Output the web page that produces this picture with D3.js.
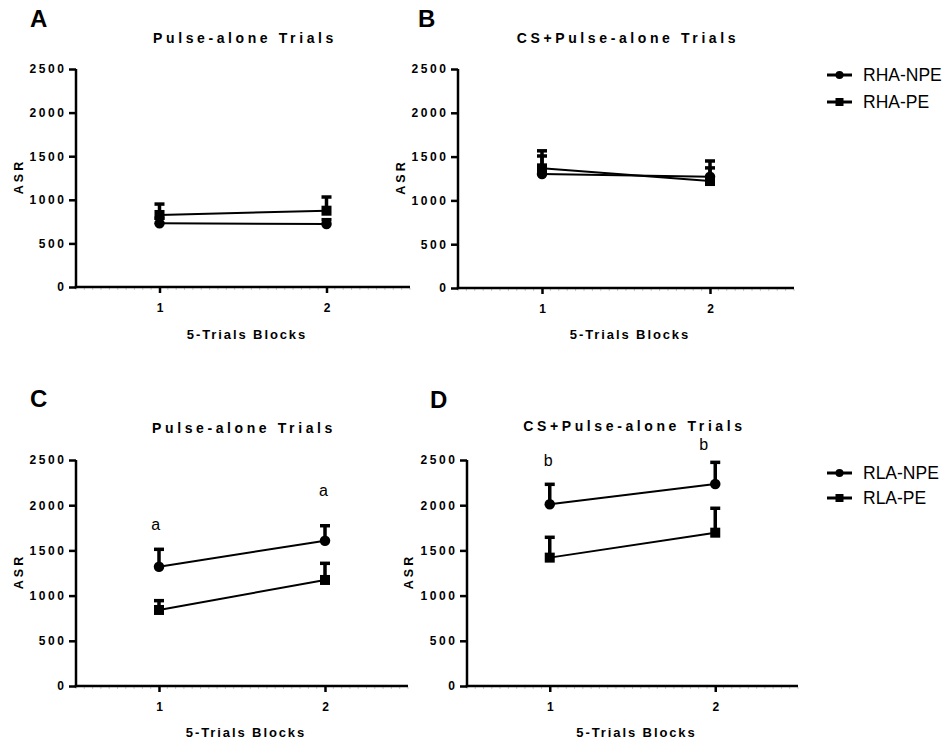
<!DOCTYPE html>
<html><head><meta charset="utf-8">
<script src="https://cdn.jsdelivr.net/npm/d3@7/dist/d3.min.js"></script>
<style>
body{margin:0;background:#fff;}
svg{display:block;font-family:"Liberation Sans",Arial,sans-serif;}
</style></head>
<body>
<svg id="chart" width="948" height="739"></svg>
<script>
// ---- data ----
const blocks = [1, 2];
const yTicks = [0, 500, 1000, 1500, 2000, 2500];
const xTickLabels = ["1", "2"];
const panelLetters = ["A", "B", "C", "D"];
const panelTitles = ["Pulse-alone Trials", "CS+Pulse-alone Trials", "Pulse-alone Trials", "CS+Pulse-alone Trials"];
const xAxisTitle = "5-Trials Blocks";
const yAxisTitle = "ASR";
const legendTop = ["RHA-NPE", "RHA-PE"];
const legendBottom = ["RLA-NPE", "RLA-PE"];

const A_npe = [730, 722], A_npe_sem = [60, 50];
const A_pe = [826, 875],  A_pe_sem = [125, 157];
const B_npe = [1300, 1270], B_npe_sem = [207, 180];
const B_pe = [1366, 1221],  B_pe_sem = [200, 150];
const C_npe = [1320, 1607], C_npe_sem = [192, 166];
const C_pe = [841, 1173],   C_pe_sem = [103, 184];
const D_npe = [2010, 2235], D_npe_sem = [221, 239];
const D_pe = [1420, 1696],  D_pe_sem = [225, 270];

const C_annot = ["a", "a"], C_annotX = [0.98, 1.99], C_annotY = [1726, 2100];
const D_annot = ["b", "b"], D_annotX = [0.99, 1.93], D_annotY = [2434, 2615];

// ---- layout ----
const svg = d3.select("#chart");
const panels = [
  {l:76, r:410, t:69, b:287, letterX:30, letterY:27, titleY:43, asrX:23, xlabY:339,
   series:[{v:A_npe,e:A_npe_sem,shape:"circle"},{v:A_pe,e:A_pe_sem,shape:"square"}]},
  {l:458, r:794, t:69, b:288, letterX:418, letterY:27, titleY:43, asrX:405, xlabY:339,
   series:[{v:B_npe,e:B_npe_sem,shape:"circle"},{v:B_pe,e:B_pe_sem,shape:"square"}]},
  {l:76, r:408, t:460, b:686, letterX:30, letterY:407, titleY:433, asrX:23, xlabY:737,
   series:[{v:C_npe,e:C_npe_sem,shape:"circle"},{v:C_pe,e:C_pe_sem,shape:"square"}],
   annot:{t:C_annot,x:C_annotX,y:C_annotY}},
  {l:467, r:798, t:460, b:686, letterX:430, letterY:408, titleY:431, asrX:413, xlabY:737,
   series:[{v:D_npe,e:D_npe_sem,shape:"circle"},{v:D_pe,e:D_pe_sem,shape:"square"}],
   annot:{t:D_annot,x:D_annotX,y:D_annotY}}
];

function drawMarker(g, shape, cx, cy, size){
  if(shape === "circle"){
    g.append("circle").attr("cx",cx).attr("cy",cy).attr("r",size/2).attr("fill","#000");
  } else {
    g.append("rect").attr("x",cx-size/2).attr("y",cy-size/2).attr("width",size).attr("height",size).attr("fill","#000");
  }
}

panels.forEach((p, i) => {
  const g = svg.append("g");
  const x = d3.scaleLinear().domain([0.5, 2.5]).range([p.l, p.r]);
  const y = d3.scaleLinear().domain([0, 2500]).range([p.b, p.t]);

  // panel letter
  g.append("text").attr("x", p.letterX).attr("y", p.letterY)
    .attr("font-size", 24).attr("font-weight", "bold").text(panelLetters[i]);
  // title
  g.append("text").attr("x", (p.l + p.r)/2 + 2).attr("y", p.titleY)
    .attr("text-anchor","middle").attr("font-size",14).attr("font-weight","bold")
    .attr("letter-spacing","3.6px").text(panelTitles[i]);

  // minor x ticks (faint)
  const minor = d3.range(0.5, 2.5001, 0.05);
  g.append("g").selectAll("line").data(minor).join("line")
    .attr("x1", d=>x(d)).attr("x2", d=>x(d))
    .attr("y1", p.b+1).attr("y2", p.b+3)
    .attr("stroke","#c8c8c8").attr("stroke-width",1);

  // y axis
  const ya = g.append("g").attr("transform",`translate(${p.l},0)`)
    .call(d3.axisLeft(y).tickValues(yTicks).tickSize(7).tickPadding(5).tickFormat(d3.format("d")));
  ya.select(".domain").attr("stroke","#000").attr("stroke-width",2.5).attr("d",`M0,${p.b+1.25}V${p.t}`);
  ya.selectAll(".tick line").attr("stroke","#000").attr("stroke-width",2.5);
  ya.selectAll(".tick text").attr("font-size",12).attr("font-weight","bold")
    .attr("letter-spacing","2.6px").attr("fill","#000").attr("dx","2.6px")
    .attr("font-family","'Liberation Sans',Arial,sans-serif");

  // x axis
  const xa = g.append("g").attr("transform",`translate(0,${p.b})`)
    .call(d3.axisBottom(x).tickValues(blocks).tickSize(6).tickPadding(10).tickFormat((d,j)=>xTickLabels[j]));
  xa.select(".domain").attr("stroke","#000").attr("stroke-width",2.5).attr("d",`M${p.l-1.25},0H${p.r}`);
  xa.selectAll(".tick line").attr("stroke","#000").attr("stroke-width",2.5);
  xa.selectAll(".tick text").attr("font-size",12).attr("font-weight","bold").attr("fill","#000")
    .attr("font-family","'Liberation Sans',Arial,sans-serif");

  // axis titles
  g.append("text").attr("transform",`translate(${p.asrX},${(p.t+p.b)/2}) rotate(-90)`)
    .attr("text-anchor","middle").attr("font-size",12.5).attr("font-weight","bold")
    .attr("letter-spacing","3px").attr("dx","1.5px").text(yAxisTitle);
  g.append("text").attr("x",(p.l+p.r)/2 + 4).attr("y",p.xlabY)
    .attr("text-anchor","middle").attr("font-size",13).attr("font-weight","bold")
    .attr("letter-spacing","1.9px").text(xAxisTitle);

  // series lines
  const line = d3.line().x((d,j)=>x(blocks[j])).y(d=>y(d));
  p.series.forEach(s => {
    g.append("path").attr("d", line(s.v)).attr("fill","none")
      .attr("stroke","#000").attr("stroke-width",2);
  });
  // error bars (upward only)
  p.series.forEach(s => {
    s.v.forEach((v,j) => {
      const cx = x(blocks[j]);
      g.append("line").attr("x1",cx).attr("x2",cx).attr("y1",y(v)).attr("y2",y(v+s.e[j]))
        .attr("stroke","#000").attr("stroke-width",3.5);
      g.append("line").attr("x1",cx-5).attr("x2",cx+5).attr("y1",y(v+s.e[j])).attr("y2",y(v+s.e[j]))
        .attr("stroke","#000").attr("stroke-width",3.5);
    });
  });
  // markers
  p.series.forEach(s => {
    s.v.forEach((v,j) => drawMarker(g, s.shape, x(blocks[j]), y(v), s.shape==="circle"?10.5:10));
  });
  // annotations
  if(p.annot){
    p.annot.t.forEach((t,j) => {
      g.append("text").attr("x", x(p.annot.x[j])).attr("y", y(p.annot.y[j]))
        .attr("text-anchor","middle").attr("font-size",16).attr("fill","#000").text(t);
    });
  }
});

// legends
function legend(names, y0, dy){
  const lg = svg.append("g");
  names.forEach((n,j) => {
    const yy = y0 + j*dy;
    lg.append("line").attr("x1",827).attr("x2",852).attr("y1",yy).attr("y2",yy)
      .attr("stroke","#000").attr("stroke-width",3);
    drawMarker(lg, j===0?"circle":"square", 839.5, yy, 8);
    lg.append("text").attr("x",863).attr("y",yy).attr("dy","0.36em")
      .attr("font-size",17.5).attr("fill","#000").text(n);
  });
}
legend(legendTop, 75, 27);
legend(legendBottom, 473, 25);
</script>
</body></html>
